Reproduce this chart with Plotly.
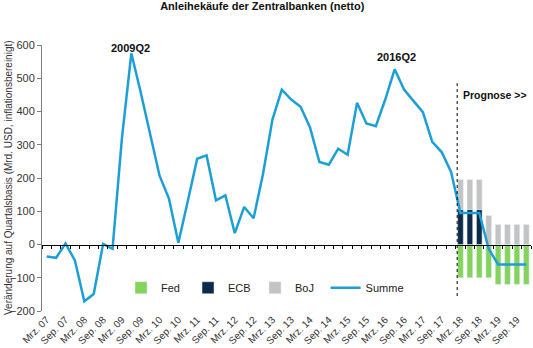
import plotly.graph_objects as go

# ---- data ----
quarters = list(range(52))  # Q1 2007 ... Q4 2019
tick_idx = list(range(0, 52, 2))
tick_labels = [f"{'Mrz.' if i % 4 == 0 else 'Sep.'} {7 + i // 4:02d}" for i in tick_idx]

summe = [-36, -40, 3, -48, -171, -149, 2, -13,
         320, 575, 457, 335, 207, 138, 5, 130,
         258, 268, 133, 148, 34, 113, 79, 212,
         375, 466, 436, 414, 352, 248, 240, 288,
         270, 426, 364, 356, 436, 527, 466, 432,
         398, 309, 278, 218, 95, 95, 95, -13,
         -60, -60, -60, -60]

forecast_q = list(range(44, 52))
fed = [-100, -100, -100, -100, -120, -120, -120, -120]
ecb = [105, 105, 105, 0, 0, 0, 0, 0]
boj = [90, 90, 90, 87, 60, 60, 60, 60]

FONT = "Liberation Sans, Arial, sans-serif"
C_FED = "#84D35C"
C_ECB = "#0D2B47"
C_BOJ = "#C3C3C3"
C_SUM = "#1C9FD6"

fig = go.Figure()
fig.add_trace(go.Bar(x=forecast_q, y=fed, name="Fed", marker_color=C_FED, width=0.6))
fig.add_trace(go.Bar(x=forecast_q, y=ecb, name="ECB", marker_color=C_ECB, width=0.6))
fig.add_trace(go.Bar(x=forecast_q, y=boj, name="BoJ", marker_color=C_BOJ, width=0.6))
fig.add_trace(go.Scatter(x=quarters, y=summe, name="Summe", mode="lines", xaxis="x2",
                         legend="legend2", line=dict(color=C_SUM, width=2.5)))

fig.update_layout(
    width=533, height=348,
    margin=dict(l=42, r=2, t=45, b=37),
    barmode="relative",
    plot_bgcolor="white", paper_bgcolor="white",
    font=dict(family=FONT, size=10, color="#404040"),
    title=dict(text="<b>Anleihekäufe der Zentralbanken (netto)</b>",
               x=0.492, xanchor="center", y=0.983, yanchor="middle",
               font=dict(size=11, color="#111111")),
    showlegend=True,
    legend=dict(orientation="h", x=0.1616, y=0.0875, xanchor="left", yanchor="middle",
                bgcolor="rgba(0,0,0,0)", font=dict(size=11, color="#222222"),
                entrywidth=22, entrywidthmode="pixels", traceorder="normal"),
    legend2=dict(orientation="h", x=0.58, y=0.0875, xanchor="left", yanchor="middle",
                 bgcolor="rgba(0,0,0,0)", font=dict(size=11, color="#222222")),
    xaxis=dict(range=[-0.5, 51.5], tickmode="array", tickvals=tick_idx, ticktext=tick_labels,
               tickangle=-45, ticks="", showline=False, showgrid=False, zeroline=False,
               automargin=False, tickfont=dict(size=10, color="#333333")),
    xaxis2=dict(range=[-0.5, 51.5], overlaying="x", anchor="free", position=0.25,
                side="bottom", showline=True, linecolor="#000000", linewidth=1,
                tickmode="linear", tick0=0.5, dtick=1, ticks="outside", ticklen=3,
                tickcolor="#000000", showticklabels=False, showgrid=False, zeroline=False),
    yaxis=dict(range=[-200, 600], tickmode="linear", tick0=-200, dtick=100,
               ticks="outside", ticklen=4, tickcolor="#7f7f7f",
               showline=True, linecolor="#7f7f7f", linewidth=1,
               showgrid=False, zeroline=False, automargin=False,
               tickfont=dict(size=11, color="#333333")),
)

fig.add_annotation(text="Veränderung auf Quartalsbasis (Mrd. USD, inflationsbereinigt)",
                   xref="paper", yref="paper", x=-0.0695, y=0.5, textangle=-90,
                   xanchor="center", yanchor="middle", showarrow=False,
                   font=dict(size=10, color="#333333"))
fig.add_annotation(text="<b>2009Q2</b>", x=8.9, y=591, xref="x", yref="y",
                   showarrow=False, font=dict(size=11, color="#111111"))
fig.add_annotation(text="<b>2016Q2</b>", x=37.2, y=564, xref="x", yref="y",
                   showarrow=False, font=dict(size=11, color="#111111"))
fig.add_annotation(text="<b>Prognose >></b>", x=44.1, y=449, xref="x", yref="y",
                   xanchor="left", showarrow=False, font=dict(size=10.5, color="#111111"))
fig.add_shape(type="line", x0=43.65, x1=43.65, y0=-155, y1=485, xref="x", yref="y",
              line=dict(color="#000000", width=1, dash="dot"))

fig.write_html("out.html")
